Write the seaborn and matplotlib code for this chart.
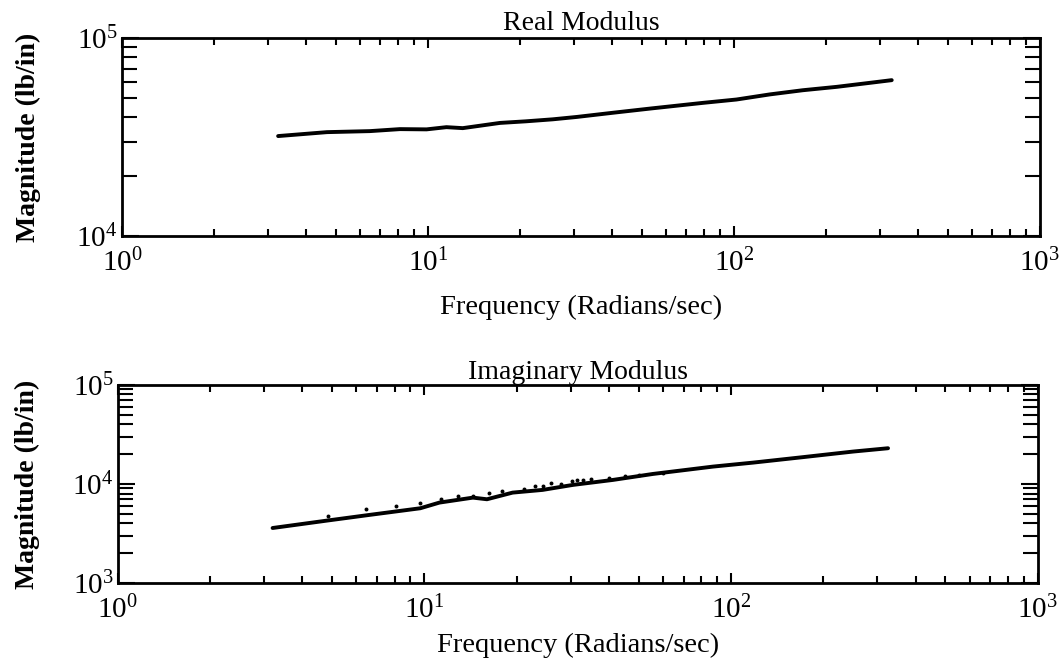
import numpy as np
import pandas as pd
import matplotlib
matplotlib.use("Agg")
import matplotlib.pyplot as plt
import seaborn as sns
from matplotlib.ticker import LogLocator, LogFormatterMathtext, NullFormatter

sns.set_theme(style="ticks")
plt.rcParams["font.family"] = ["Liberation Serif", "DejaVu Serif"]
plt.rcParams["mathtext.fontset"] = "custom"
plt.rcParams["mathtext.rm"] = "Liberation Serif"
plt.rcParams["mathtext.it"] = "Liberation Serif"

# real modulus
real_freq = [3.24, 4.68, 6.46, 8.1, 9.9, 11.5, 13.0, 17.2, 20.9, 25.6, 30.7,
             40.3, 54.0, 79.0, 102.0, 131.0, 168.0, 217.0, 278.0, 328.0]
real_mag = [32000, 33500, 33900, 34700, 34600, 35500, 35100, 37300, 38000, 38900, 40000,
            42000, 44200, 47100, 49000, 52000, 54600, 56800, 59500, 61400]

# imaginary modulus, solid trace
imag_freq = [3.2, 4.8, 6.6, 9.7, 11.2, 14.4, 16.0, 19.4, 24.3, 30.5,
             41.2, 55.6, 87.3, 118.0, 171.0, 250.0, 325.0]
imag_mag = [3590, 4260, 4860, 5680, 6480, 7270, 7000, 8170, 8700, 9770,
            10970, 12600, 14950, 16400, 18600, 21200, 22900]

# imaginary modulus, scattered dots above the trace
dot_freq = [4.84, 6.46, 8.1, 9.7, 11.3, 12.9, 14.4, 16.2, 17.9, 21.2, 22.9, 24.3,
            25.8, 28.0, 30.4, 31.5, 33.0, 35.0, 40.0, 45.0, 50.0, 60.0]
dot_mag = [4750, 5630, 5990, 6380, 7110, 7570, 7570, 8060, 8440, 8970, 9550, 9550,
           10170, 9900, 10650, 11000, 11000, 11100, 11600, 11900, 12300, 12800]

real_df = pd.DataFrame({"freq": real_freq, "mag": real_mag})
imag_df = pd.DataFrame({"freq": imag_freq, "mag": imag_mag})
dot_df = pd.DataFrame({"freq": dot_freq, "mag": dot_mag})

fig = plt.figure(figsize=(10.6, 6.72), dpi=100)
ax1 = fig.add_axes([0.115, 0.649, 0.866, 0.294])
ax2 = fig.add_axes([0.111, 0.1324, 0.868, 0.295])

sns.lineplot(data=real_df, x="freq", y="mag", color="black", linewidth=2.8, ax=ax1)
sns.lineplot(data=imag_df, x="freq", y="mag", color="black", linewidth=2.8, ax=ax2)
sns.scatterplot(data=dot_df, x="freq", y="mag", color="black", s=8, linewidth=0, ax=ax2)

panels = [(ax1, 1e4, 1e5, "Real Modulus", 6, -0.30, -0.088),
          (ax2, 1e3, 1e5, "Imaginary Modulus", 4, -0.25, -0.084)]
for ax, ylo, yhi, title, tpad, xl_y, yl_x in panels:
    ax.set_xscale("log")
    ax.set_yscale("log")
    ax.set_xlim(1, 1000)
    ax.set_ylim(ylo, yhi)
    ax.xaxis.set_major_locator(LogLocator(base=10, numticks=10))
    ax.xaxis.set_minor_locator(LogLocator(base=10, subs=np.arange(2, 10), numticks=20))
    ax.yaxis.set_major_locator(LogLocator(base=10, numticks=10))
    ax.yaxis.set_minor_locator(LogLocator(base=10, subs=np.arange(2, 10), numticks=20))
    ax.xaxis.set_major_formatter(LogFormatterMathtext())
    ax.yaxis.set_major_formatter(LogFormatterMathtext())
    ax.xaxis.set_minor_formatter(NullFormatter())
    ax.yaxis.set_minor_formatter(NullFormatter())
    ax.tick_params(axis="both", which="both", direction="in", top=True, right=True,
                   color="black", width=1.5, labelsize=21, labelcolor="black")
    ax.tick_params(axis="x", which="major", length=7, pad=9)
    ax.tick_params(axis="x", which="minor", length=5)
    ax.tick_params(axis="y", which="major", length=12, pad=3)
    ax.tick_params(axis="y", which="minor", length=11)
    for sp in ax.spines.values():
        sp.set_visible(True)
        sp.set_linewidth(2)
        sp.set_color("black")
    ax.set_title(title, fontsize=20, pad=tpad, color="black")
    ax.set_xlabel("Frequency (Radians/sec)", fontsize=20.5, color="black")
    ax.set_ylabel("Magnitude (lb/in)", fontsize=20, fontweight="bold", color="black")
    ax.xaxis.set_label_coords(0.5, xl_y)
    ax.yaxis.set_label_coords(yl_x, 0.5)
    ax.grid(False)

fig.savefig("out.png", dpi=100, facecolor="white")
